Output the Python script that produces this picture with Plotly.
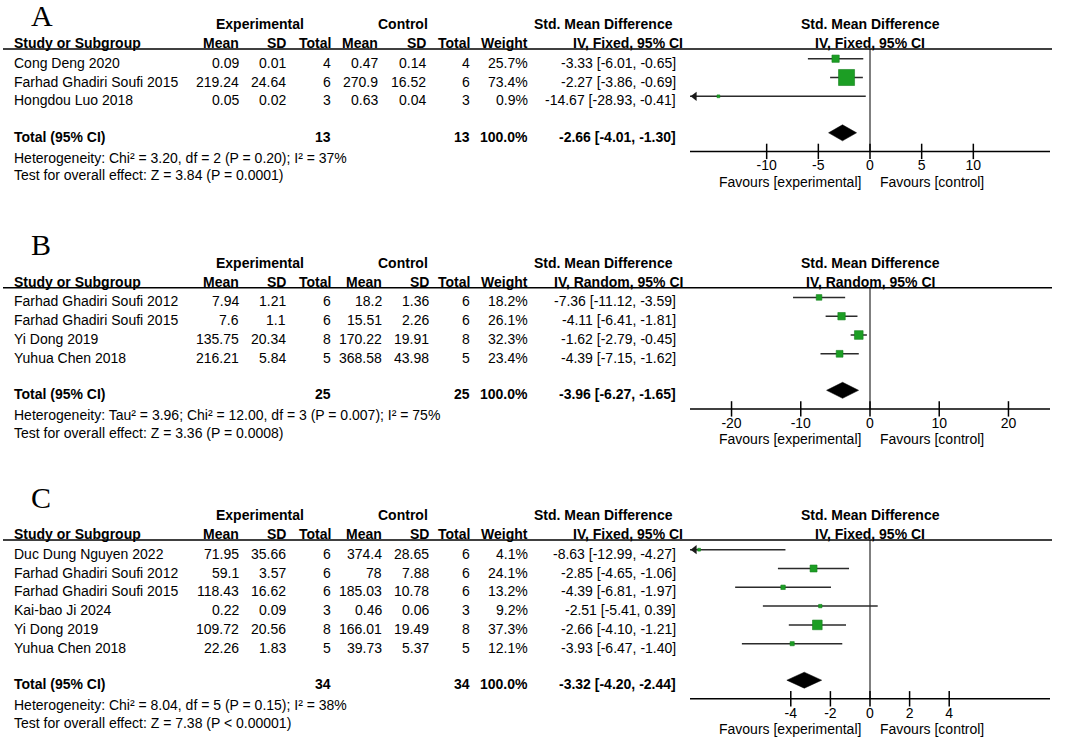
import plotly.graph_objects as go

W, H = 1065, 738
FONT = "Liberation Sans, Arial, sans-serif"
SERIF = "Liberation Serif, Times New Roman, serif"
FS = 14
GREEN = "rgb(28,158,36)"

# ---------------- Panel A ----------------
a_studies = ["Cong Deng 2020", "Farhad Ghadiri Soufi 2015", "Hongdou Luo 2018"]
a_exp_mean = [0.09, 219.24, 0.05]
a_exp_sd = [0.01, 24.64, 0.02]
a_exp_n = [4, 6, 3]
a_ctl_mean = [0.47, 270.9, 0.63]
a_ctl_sd = [0.14, 16.52, 0.04]
a_ctl_n = [4, 6, 3]
a_weight = [25.7, 73.4, 0.9]
a_smd = [-3.33, -2.27, -14.67]
a_lo = [-6.01, -3.86, -28.93]
a_hi = [-0.65, -0.69, -0.41]
a_total = dict(exp_n=13, ctl_n=13, weight=100.0, smd=-2.66, lo=-4.01, hi=-1.30)
a_het = "Heterogeneity: Chi² = 3.20, df = 2 (P = 0.20); I² = 37%"
a_test = "Test for overall effect: Z = 3.84 (P = 0.0001)"
a_ticks = [-10, -5, 0, 5, 10]
a_method = "IV, Fixed, 95% CI"

# ---------------- Panel B ----------------
b_studies = ["Farhad Ghadiri Soufi 2012", "Farhad Ghadiri Soufi 2015", "Yi Dong 2019", "Yuhua Chen 2018"]
b_exp_mean = [7.94, 7.6, 135.75, 216.21]
b_exp_sd = [1.21, 1.1, 20.34, 5.84]
b_exp_n = [6, 6, 8, 5]
b_ctl_mean = [18.2, 15.51, 170.22, 368.58]
b_ctl_sd = [1.36, 2.26, 19.91, 43.98]
b_ctl_n = [6, 6, 8, 5]
b_weight = [18.2, 26.1, 32.3, 23.4]
b_smd = [-7.36, -4.11, -1.62, -4.39]
b_lo = [-11.12, -6.41, -2.79, -7.15]
b_hi = [-3.59, -1.81, -0.45, -1.62]
b_total = dict(exp_n=25, ctl_n=25, weight=100.0, smd=-3.96, lo=-6.27, hi=-1.65)
b_het = "Heterogeneity: Tau² = 3.96; Chi² = 12.00, df = 3 (P = 0.007); I² = 75%"
b_test = "Test for overall effect: Z = 3.36 (P = 0.0008)"
b_ticks = [-20, -10, 0, 10, 20]
b_method = "IV, Random, 95% CI"

# ---------------- Panel C ----------------
c_studies = ["Duc Dung Nguyen 2022", "Farhad Ghadiri Soufi 2012", "Farhad Ghadiri Soufi 2015",
             "Kai-bao Ji 2024", "Yi Dong 2019", "Yuhua Chen 2018"]
c_exp_mean = [71.95, 59.1, 118.43, 0.22, 109.72, 22.26]
c_exp_sd = [35.66, 3.57, 16.62, 0.09, 20.56, 1.83]
c_exp_n = [6, 6, 6, 3, 8, 5]
c_ctl_mean = [374.4, 78, 185.03, 0.46, 166.01, 39.73]
c_ctl_sd = [28.65, 7.88, 10.78, 0.06, 19.49, 5.37]
c_ctl_n = [6, 6, 6, 3, 8, 5]
c_weight = [4.1, 24.1, 13.2, 9.2, 37.3, 12.1]
c_smd = [-8.63, -2.85, -4.39, -2.51, -2.66, -3.93]
c_lo = [-12.99, -4.65, -6.81, -5.41, -4.10, -6.47]
c_hi = [-4.27, -1.06, -1.97, 0.39, -1.21, -1.40]
c_total = dict(exp_n=34, ctl_n=34, weight=100.0, smd=-3.32, lo=-4.20, hi=-2.44)
c_het = "Heterogeneity: Chi² = 8.04, df = 5 (P = 0.15); I² = 38%"
c_test = "Test for overall effect: Z = 7.38 (P < 0.00001)"
c_ticks = [-4, -2, 0, 2, 4]
c_method = "IV, Fixed, 95% CI"

panels = [
    dict(label="A", studies=a_studies, em=a_exp_mean, es=a_exp_sd, en=a_exp_n, cm=a_ctl_mean, cs=a_ctl_sd,
         cn=a_ctl_n, w=a_weight, smd=a_smd, lo=a_lo, hi=a_hi, tot=a_total, het=a_het, test=a_test,
         ticks=a_ticks, method=a_method, half=17.42, top=24.0, letter_y=15.5, cm_x=379, cs_x=427),
    dict(label="B", studies=b_studies, em=b_exp_mean, es=b_exp_sd, en=b_exp_n, cm=b_ctl_mean, cs=b_ctl_sd,
         cn=b_ctl_n, w=b_weight, smd=b_smd, lo=b_lo, hi=b_hi, tot=b_total, het=b_het, test=b_test,
         ticks=b_ticks, method=b_method, half=26.0, top=262.7, letter_y=244.5, cm_x=383, cs_x=430),
    dict(label="C", studies=c_studies, em=c_exp_mean, es=c_exp_sd, en=c_exp_n, cm=c_ctl_mean, cs=c_ctl_sd,
         cn=c_ctl_n, w=c_weight, smd=c_smd, lo=c_lo, hi=c_hi, tot=c_total, het=c_het, test=c_test,
         ticks=c_ticks, method=c_method, half=9.09, top=515.0, letter_y=497.5, cm_x=383, cs_x=430),
]

PX0, PX1 = 690, 1050
ZERO_PX = (PX0 + PX1) / 2
X_NAME = 13
X_EM, X_ES, X_EN = 240, 286.5, 332
X_CN, X_W, X_CI = 470.5, 529, 677

fig = go.Figure()
annotations = []
shapes = []


def txt(x, y, s, anchor="left", bold=False, size=FS, family=FONT):
    annotations.append(dict(
        x=x / W, y=y, xref="paper", yref="y", text=f"<b>{s}</b>" if bold else s,
        showarrow=False, xanchor=anchor, yanchor="middle", borderpad=0,
        font=dict(family=family, size=size, color="black")))


def fmt(v):
    return f"{v:g}"


layout_axes = {}
for k, p in enumerate(panels):
    xname = "x" if k == 0 else f"x{k + 1}"
    axkey = "xaxis" if k == 0 else f"xaxis{k + 1}"
    ax = dict(domain=[PX0 / W, PX1 / W], range=[-p["half"], p["half"]], visible=False, anchor="y",
              fixedrange=True)
    if k > 0:
        ax["overlaying"] = "x"
    layout_axes[axkey] = ax
    ppu = (PX1 - PX0) / (2 * p["half"])

    top = p["top"]
    h2 = top + 19.3
    uline = top + 25.0
    rows = [top + 38.7 + 18.8 * i for i in range(len(p["studies"]))]
    total_y = rows[-1] + 36.5
    het_y = total_y + 20.8
    test_y = het_y + 17.8
    axis_y = total_y + 14.6
    tick_y = axis_y + 15.5
    fav_y = axis_y + 30.5
    mk = [r - 4 for r in rows]
    tot_mk = total_y - 4

    # panel letter
    txt(30, p["letter_y"], p["label"], size=30, family=SERIF)

    # headers
    txt(260, top, "Experimental", "center", True)
    txt(403, top, "Control", "center", True)
    txt(674, top, "Std. Mean Difference", "right", True)
    txt(ZERO_PX, top, "Std. Mean Difference", "center", True)
    txt(X_NAME, h2, "Study or Subgroup", "left", True)
    for xx, s in [(X_EM, "Mean"), (X_ES, "SD"), (X_EN, "Total"), (p["cm_x"], "Mean"), (p["cs_x"], "SD"),
                  (X_CN, "Total"), (X_W, "Weight")]:
        txt(xx, h2, s, "right", True)
    txt(684, h2, p["method"], "right", True)
    txt(ZERO_PX, h2, p["method"], "center", True)
    shapes.append(dict(type="line", xref="paper", yref="y", x0=3 / W, x1=1052 / W, y0=uline, y1=uline,
                       line=dict(color="black", width=1.5)))

    # study rows
    for i, s in enumerate(p["studies"]):
        y = rows[i]
        txt(X_NAME, y, s)
        txt(X_EM, y, fmt(p["em"][i]), "right")
        txt(X_ES, y, fmt(p["es"][i]), "right")
        txt(X_EN, y, str(p["en"][i]), "right")
        txt(p["cm_x"], y, fmt(p["cm"][i]), "right")
        txt(p["cs_x"], y, fmt(p["cs"][i]), "right")
        txt(X_CN, y, str(p["cn"][i]), "right")
        txt(X_W, y, f"{p['w'][i]:.1f}%", "right")
        txt(X_CI, y, f"{p['smd'][i]:.2f} [{p['lo'][i]:.2f}, {p['hi'][i]:.2f}]", "right")

    t = p["tot"]
    txt(X_NAME, total_y, "Total (95% CI)", "left", True)
    txt(X_EN, total_y, str(t["exp_n"]), "right", True)
    txt(X_CN, total_y, str(t["ctl_n"]), "right", True)
    txt(X_W, total_y, f"{t['weight']:.1f}%", "right", True)
    txt(X_CI, total_y, f"{t['smd']:.2f} [{t['lo']:.2f}, {t['hi']:.2f}]", "right", True)
    txt(X_NAME, het_y, p["het"])
    txt(X_NAME, test_y, p["test"])

    # zero line
    fig.add_trace(go.Scatter(x=[0, 0], y=[uline, axis_y], mode="lines", xaxis=xname, yaxis="y",
                             line=dict(color="#555555", width=1.5), hoverinfo="skip", showlegend=False))
    # CI lines
    for i in range(len(p["studies"])):
        fig.add_trace(go.Scatter(x=[p["lo"][i], p["hi"][i]], y=[mk[i], mk[i]], mode="lines",
                                 xaxis=xname, yaxis="y", line=dict(color="#2b2b2b", width=1.5),
                                 hoverinfo="skip", showlegend=False))
        if p["lo"][i] < -p["half"]:
            fig.add_trace(go.Scatter(x=[-p["half"] + 4.6 / ppu], y=[mk[i]], mode="markers",
                                     xaxis=xname, yaxis="y", cliponaxis=False,
                                     marker=dict(symbol="triangle-left", size=8, color="#1a1a1a"),
                                     hoverinfo="skip", showlegend=False))
    # squares
    fig.add_trace(go.Scatter(x=p["smd"], y=mk, mode="markers", xaxis=xname, yaxis="y",
                             marker=dict(symbol="square", color=GREEN, opacity=1,
                                         size=[max(2.8, 0.64 * w ** 0.75) for w in p["w"]],
                                         line=dict(width=0.6, color="rgb(20,130,28)")),
                             hoverinfo="skip", showlegend=False))
    # diamond
    fig.add_trace(go.Scatter(x=[t["lo"], t["smd"], t["hi"], t["smd"], t["lo"]],
                             y=[tot_mk, tot_mk - 8, tot_mk, tot_mk + 8, tot_mk],
                             mode="lines", fill="toself", fillcolor="black", xaxis=xname, yaxis="y",
                             line=dict(color="black", width=0.5), hoverinfo="skip", showlegend=False))
    # axis
    fig.add_trace(go.Scatter(x=[-p["half"], p["half"]], y=[axis_y, axis_y], mode="lines",
                             xaxis=xname, yaxis="y", line=dict(color="black", width=1.5),
                             hoverinfo="skip", showlegend=False))
    fig.add_trace(go.Scatter(x=p["ticks"], y=[axis_y] * len(p["ticks"]), mode="markers",
                             xaxis=xname, yaxis="y", cliponaxis=False,
                             marker=dict(symbol="line-ns", size=11, line=dict(width=1.5, color="black")),
                             hoverinfo="skip", showlegend=False))
    fig.add_trace(go.Scatter(x=p["ticks"], y=[tick_y] * len(p["ticks"]), mode="text",
                             text=[str(v) for v in p["ticks"]], textposition="middle center",
                             xaxis=xname, yaxis="y", cliponaxis=False,
                             textfont=dict(family=FONT, size=FS, color="black"),
                             hoverinfo="skip", showlegend=False))
    txt(ZERO_PX - 8.5, fav_y, "Favours [experimental]", "right")
    txt(ZERO_PX + 8.5, fav_y, "Favours [control]", "left")

fig.update_layout(
    width=W, height=H, margin=dict(l=0, r=0, t=0, b=0),
    paper_bgcolor="white", plot_bgcolor="white",
    yaxis=dict(domain=[0, 1], range=[H, 0], visible=False, fixedrange=True),
    annotations=annotations, shapes=shapes, showlegend=False, hovermode=False,
    **layout_axes,
)

fig.write_html("out.html", config={"displayModeBar": False, "staticPlot": True},
               post_script="document.body.style.margin='0px';document.body.style.overflow='hidden';")
